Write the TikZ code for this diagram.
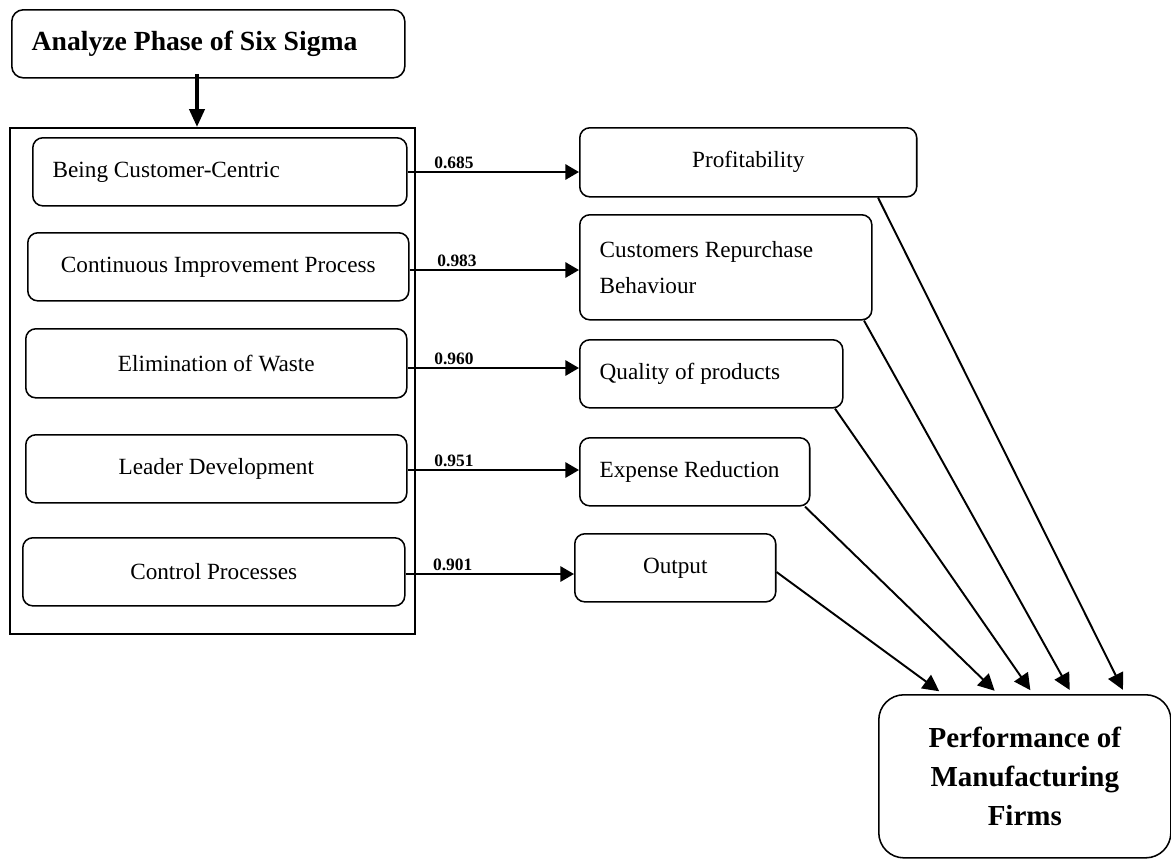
\documentclass[tikz,border=0pt]{standalone}
\usepackage{fontspec}
\setmainfont{Liberation Serif}
\usetikzlibrary{arrows.meta}
\begin{document}
\begin{tikzpicture}[x=0.517pt, y=-0.517pt,
  box/.style={draw, line width=0.8pt, rounded corners=5.2pt, inner sep=0pt, anchor=north west, font=\fontsize{12}{14}\selectfont},
  lbox/.style={box, align=flush left, inner xsep=10.3pt},
  arr/.style={-{Triangle[length=7pt,width=7.8pt]}, line width=1.2pt},
  darr/.style={-{Triangle[length=8.5pt,width=8.5pt]}, line width=1pt, shorten >=2.4pt},
  lab/.style={font=\bfseries\fontsize{9}{10}\selectfont, inner sep=1pt, above},
]
\useasboundingbox (0,0) rectangle (1171,858);

% outer frame
\node[draw, line width=1pt, anchor=north west, inner sep=0pt, minimum width=209.4pt, minimum height=261.6pt] (frame) at (9,127) {};

% title
\node[box, rounded corners=6pt, font=\bfseries\fontsize{14.3}{17}\selectfont, minimum width=203.2pt, minimum height=35.2pt, align=flush left, text width=182.6pt, inner xsep=10.3pt] (top) at (11,9) {Analyze Phase of Six Sigma};

% left boxes
\node[lbox, minimum width=193.4pt, minimum height=35.2pt, text width=172.8pt] (b1) at (32,137) {Being Customer-Centric};
\node[box, minimum width=197pt, minimum height=35.2pt] (b2) at (27,232) {Continuous Improvement Process};
\node[box, minimum width=197pt, minimum height=35.7pt] (b3) at (25,328) {Elimination of Waste};
\node[box, minimum width=197pt, minimum height=35.2pt] (b4) at (25,434) {Leader Development};
\node[box, minimum width=197.5pt, minimum height=35.2pt] (b5) at (22,537) {Control Processes};

% right boxes
\node[box, minimum width=174.2pt, minimum height=35.7pt] (r1) at (579,127) {Profitability};
\node[lbox, minimum width=151pt, minimum height=54.3pt, text width=130.4pt, font=\fontsize{12}{18.6}\selectfont] (r2) at (579,214) {Customers Repurchase\\Behaviour};
\node[lbox, minimum width=136pt, minimum height=35.2pt, text width=115.4pt] (r3) at (579,339) {Quality of products};
\node[lbox, minimum width=118.9pt, minimum height=35.2pt, text width=98.3pt] (r4) at (579,437) {Expense Reduction};
\node[box, minimum width=103.9pt, minimum height=35.2pt] (r5) at (574,533) {Output};

% performance
\node[box, rounded corners=13pt, minimum width=151pt, minimum height=84.3pt, align=center, font=\bfseries\fontsize{15}{20.2}\selectfont] (perf) at (878,694) {Performance of\\Manufacturing\\Firms};

% thick arrow
\draw[line width=2pt, -{Triangle[length=9.3pt,width=7.8pt]}] ([yshift=2.5pt]top.south -| 197,0) -- (frame.north -| 197,0);

% horizontal arrows
\draw[arr] (b1.east |- 0,172) -- node[lab, pos=0.27]{0.685} (r1.west |- 0,172);
\draw[arr] (b2.east |- 0,270) -- node[lab, pos=0.28]{0.983} (r2.west |- 0,270);
\draw[arr] (b3.east |- 0,368) -- node[lab, pos=0.27]{0.960} (r3.west |- 0,368);
\draw[arr] (b4.east |- 0,470) -- node[lab, pos=0.27]{0.951} (r4.west |- 0,470);
\draw[arr] (b5.east |- 0,574) -- node[lab, pos=0.28]{0.901} (r5.west |- 0,574);

% diagonal arrows
\draw[darr] (r5.east |- 0,572) -- (perf.north -| 943,0);
\draw[darr] (r4.south -| 805,0) -- (perf.north -| 998,0);
\draw[darr] (r3.south -| 835,0) -- (perf.north -| 1033,0);
\draw[darr] (r2.south -| 864,0) -- (perf.north -| 1072,0);
\draw[darr] (r1.south -| 878,0) -- (perf.north -| 1125,0);
\end{tikzpicture}
\end{document}
